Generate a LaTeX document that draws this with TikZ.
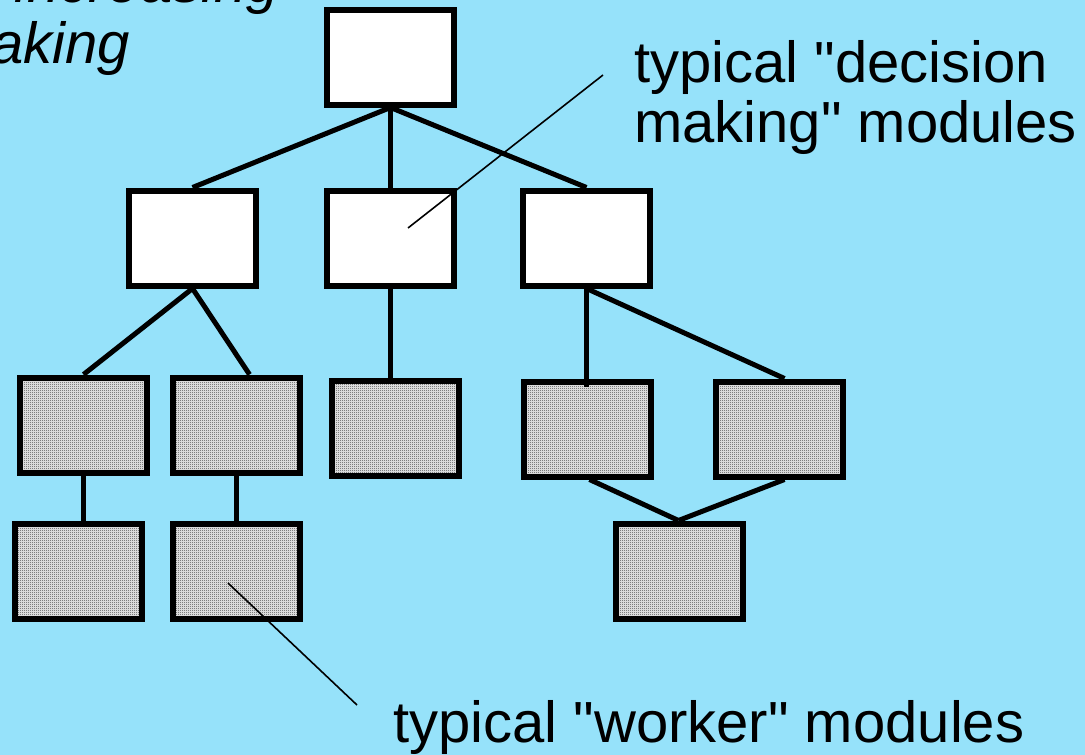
\documentclass[tikz,border=0pt]{standalone}
\usepackage{fontspec}
\setmainfont{Liberation Sans}
\usetikzlibrary{patterns,calc}

% fine stipple used for the worker modules
\pgfdeclarepatternformonly{stipple}{\pgfqpoint{0pt}{0pt}}{\pgfqpoint{2pt}{2pt}}{\pgfqpoint{2pt}{2pt}}{%
  \pgfpathrectangle{\pgfqpoint{0pt}{0pt}}{\pgfqpoint{1pt}{1pt}}\pgfusepath{fill}}

\definecolor{skyback}{RGB}{150,226,250}
\definecolor{stipplegray}{RGB}{218,218,218}

\tikzset{
  module/.style={draw=black, line width=6pt, rectangle, inner sep=0pt,
    minimum width=127pt, minimum height=95pt},
  decider/.style={module, fill=white},
  worker/.style={module, fill=stipplegray, postaction={pattern=stipple, pattern color=black}},
  link/.style={line width=5pt},
  pointer/.style={line width=1.6pt},
  label/.style={font=\fontsize{58pt}{60pt}\selectfont, inner sep=0pt},
}
\newcommand{\qq}{\textquotedbl}

\begin{document}
\begin{tikzpicture}[x=1pt, y=-1pt]
  \useasboundingbox (0,0) rectangle (1085,755);
  \fill[skyback] (0,0) rectangle (1085,755);
  \clip (0,0) rectangle (1085,755);

  % heading, running off the top left corner
  \node[label, font=\fontsize{58pt}{60pt}\selectfont\itshape, anchor=base east] (head1) at (279,2) {increasing};
  \node[label, font=\fontsize{58pt}{60pt}\selectfont\itshape, anchor=base east] (head2) at (130,63) {making};

  % decision making modules
  \node[decider] (top) at (390.5,57) {};
  \node[decider] (dl) at (192.5,238) {};
  \node[decider] (dm) at (390.5,238) {};
  \node[decider] (dr) at (586.5,238) {};

  % worker modules
  \node[worker] (wa) at (83.5,425) {};
  \node[worker] (wb) at (236.5,425) {};
  \node[worker] (wc) at (395,428) {};
  \node[worker] (wd) at (587.5,429) {};
  \node[worker] (we) at (779.5,429) {};
  \node[worker] (wf) at (78.5,571) {};
  \node[worker] (wg) at (236.5,571) {};
  \node[worker] (wh) at (679.5,571) {};

  % tree links
  \draw[link] (top.south) -- (dl.north);
  \draw[link] (top.south) -- (dm.north);
  \draw[link] (top.south) -- (dr.north);
  \draw[link] (dl.south) -- (wa.north);
  \draw[link] (dl.south) -- ($(wb.north)+(13,0)$);
  \draw[link] (dm.south) -- (dm.south |- wc.north);
  \draw[link] (dr.south) -- ($(dr.south |- wd.north)+(0,8)$);
  \draw[link] (dr.south) -- ($(we.north)+(5,0)$);
  \draw[link] (wa.south) -- (wa.south |- wf.north);
  \draw[link] (wb.south) -- (wb.south |- wg.north);
  \draw[link] ($(wd.south)+(2,0)$) -- ($(wh.north)-(1,0)$);
  \draw[link] ($(we.south)+(5,0)$) -- ($(wh.north)-(1,0)$);

  % annotations
  \node[label, anchor=base west] (dec1) at (634,82) {typical \qq decision};
  \node[label, anchor=base west] (dec2) at (634,142) {making\qq{} modules};
  \node[label, anchor=base west] (work) at (393,742) {typical \qq worker\qq{} modules};

  \coordinate (decptr) at (603,75);
  \coordinate (decend) at (408,228);
  \coordinate (workptr) at (357,705);
  \coordinate (workend) at (228,583);
  \draw[pointer] (decptr) -- (decend);
  \draw[pointer] (workptr) -- (workend);
\end{tikzpicture}
\end{document}
